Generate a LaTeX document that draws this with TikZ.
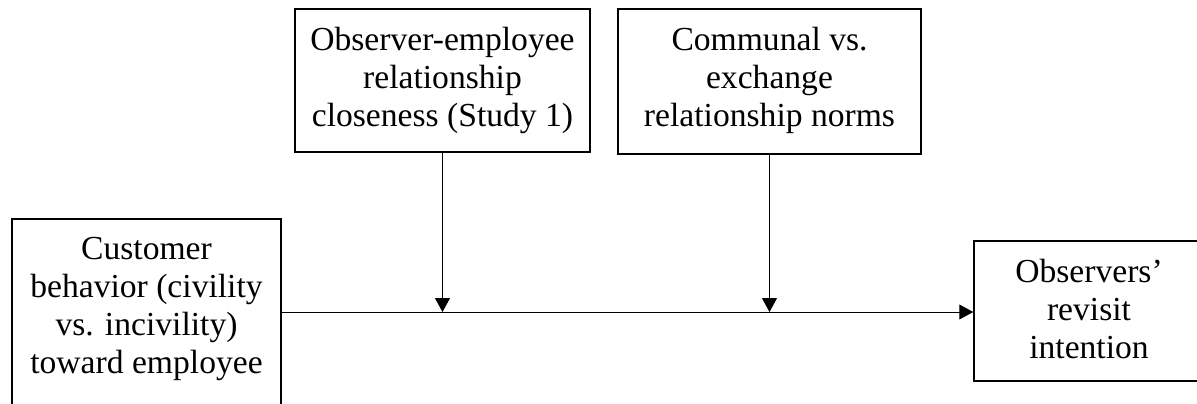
\documentclass[tikz,border=0pt]{standalone}
\usepackage{fontspec}
\setmainfont{Liberation Serif}
\usetikzlibrary{arrows.meta}
\begin{document}
\begin{tikzpicture}[x=1pt,y=-1pt,
  boxshape/.style={draw, line width=1.5pt, rectangle, inner sep=0pt},
  label/.style={inner sep=0pt, anchor=north, align=center, font=\fontsize{33.6}{38}\selectfont},
  arr/.style={line width=1pt, -{Triangle[length=14pt,width=15pt]}}]
\useasboundingbox (0,0) rectangle (1197,404);
\clip (0,0) rectangle (1197,404);
% boxes
\node[boxshape, minimum width=269pt, minimum height=201pt] (L) at (146.5,319.5) {};
\node[boxshape, minimum width=295pt, minimum height=143pt] (M) at (442.5,80.5) {};
\node[boxshape, minimum width=303pt, minimum height=145pt] (R) at (769.5,81.5) {};
\node[boxshape, minimum width=230pt, minimum height=140pt] (O) at (1089,311) {};
% texts
\node[label] (Lt) at (146.5,237) {Customer\\behavior (civility\\vs. incivility)\\toward employee};
\node[label] (Mt) at (442.5,27) {Observer-employee\\relationship\\closeness (Study 1)};
\node[label] (Rt) at (769.5,27) {Communal vs.\\exchange\\relationship norms};
\node[label] (Ot) at (1089,259) {Observers’\\revisit\\intention};
% junctions
\coordinate (J1) at (442.5,312);
\coordinate (J2) at (769.5,312);
% connectors
\draw[arr] (L.east |- J1) -- (O.west |- J1);
\draw[arr] (M.south) -- (J1);
\draw[arr] (R.south) -- (J2);
\end{tikzpicture}
\end{document}
